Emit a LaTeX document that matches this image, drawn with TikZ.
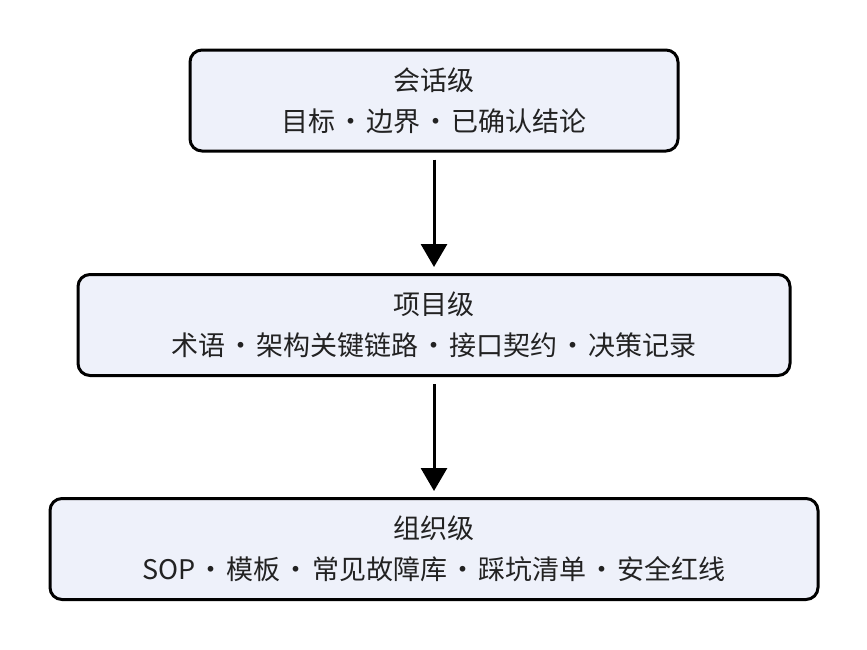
\documentclass[tikz,border=0pt]{standalone}
\usepackage{fontspec}
\setmainfont{Noto Sans CJK SC}
\usepackage{tikz}
\usetikzlibrary{arrows.meta,positioning}

\definecolor{levelfill}{RGB}{238,241,250}
\definecolor{leveltext}{RGB}{34,34,34}
\newcommand{\dotsep}{\hspace{0.08em}・\hspace{0.08em}}

\begin{document}
\begin{tikzpicture}[x=0.5pt,y=-0.5pt,
		level/.style={draw=black, line width=1.5pt, fill=levelfill, rounded corners=6pt,
			minimum height=50.5pt, align=center, text=leveltext,
			font=\fontsize{13.5}{20.5}\selectfont},
		flow/.style={-{Triangle[width=13pt,length=11.5pt]}, line width=1.5pt, shorten <=3.5pt, shorten >=3pt}]
		\useasboundingbox (0,0) rectangle (867,649);
		
		\node[level, minimum width=244pt] (session) at (434,100.5) {会话级\\目标\dotsep 边界\dotsep 已确认结论};
		\node[level, minimum width=356pt] (project) at (434,325) {项目级\\术语\dotsep 架构关键链路\dotsep 接口契约\dotsep 决策记录};
		\node[level, minimum width=384pt] (org) at (434,549) {组织级\\SOP\dotsep 模板\dotsep 常见故障库\dotsep 踩坑清单\dotsep 安全红线};
		
		\draw[flow] (session) -- (project);
		\draw[flow] (project) -- (org);
	\end{tikzpicture}
\end{document}
